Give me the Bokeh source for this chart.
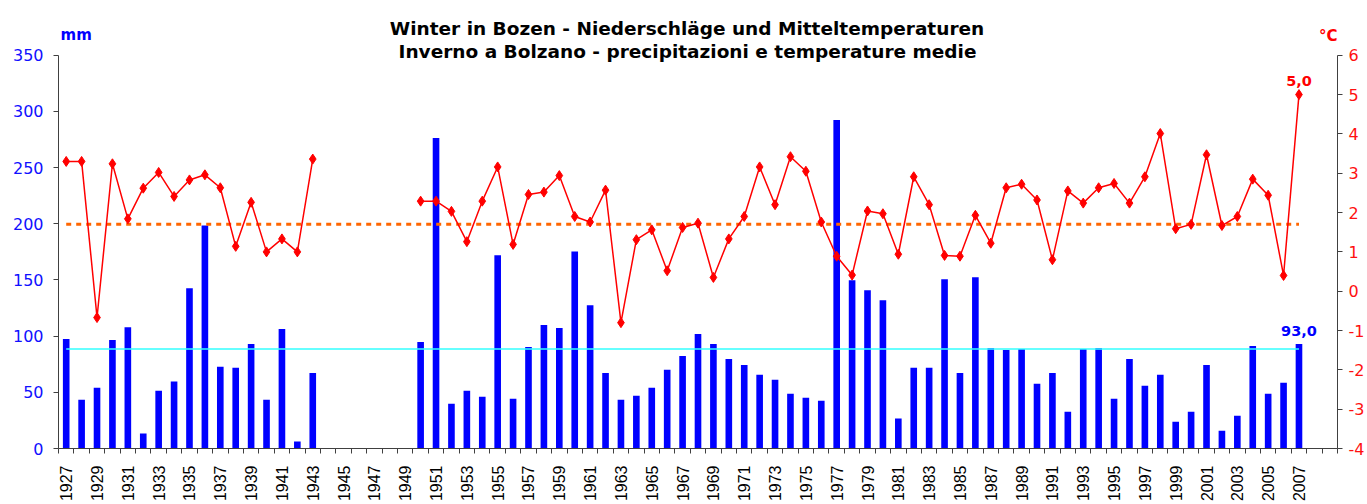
import math
from bokeh.plotting import figure
from bokeh.models import Range1d, LinearAxis, FixedTicker, Label
from bokeh.core.properties import value
from bokeh.embed import file_html
from bokeh.resources import INLINE

# ---------------- data ----------------
years = list(range(1927, 2008))

precip_years = [1927, 1928, 1929, 1930, 1931, 1932, 1933, 1934, 1935, 1936, 1937, 1938,
                1939, 1940, 1941, 1942, 1943,
                1950, 1951, 1952, 1953, 1954, 1955, 1956, 1957, 1958, 1959, 1960, 1961,
                1962, 1963, 1964, 1965, 1966, 1967, 1968, 1969, 1970, 1971, 1972, 1973,
                1974, 1975, 1976, 1977, 1978, 1979, 1980, 1981, 1982, 1983, 1984, 1985,
                1986, 1987, 1988, 1989, 1990, 1991, 1992, 1993, 1994, 1995, 1996, 1997,
                1998, 1999, 2000, 2001, 2002, 2003, 2004, 2005, 2006, 2007]
precip_mm = [97.5, 43.4, 54.0, 96.6, 108.0, 13.3, 51.4, 59.7, 142.6, 198.5, 72.7, 71.8,
             93.0, 43.4, 106.3, 6.2, 67.3,
             94.8, 276.4, 39.9, 51.4, 46.1, 171.9, 44.3, 90.4, 109.9, 107.2, 175.4, 127.6,
             67.3, 43.4, 47.0, 54.0, 70.0, 82.4, 101.9, 93.0, 79.7, 74.4, 65.6, 61.1,
             48.7, 45.2, 42.5, 292.4, 149.7, 140.9, 132.0, 26.6, 71.8, 71.8, 150.6, 67.3,
             152.4, 89.5, 87.7, 88.6, 57.6, 67.3, 32.8, 88.6, 89.5, 44.3, 79.7, 55.8,
             65.6, 23.9, 32.8, 74.4, 15.9, 29.2, 91.3, 48.7, 58.5, 93.0]

nan = float("nan")
temp_years = years
temp_c = [3.30, 3.30, -0.67, 3.24, 1.84, 2.62, 3.02, 2.41, 2.83, 2.96, 2.63, 1.14,
          2.26, 1.00, 1.33, 1.00, 3.36,
          nan, nan, nan, nan, nan, nan,
          2.29, 2.29, 2.03, 1.26, 2.29, 3.16, 1.19, 2.46, 2.52, 2.94, 1.90, 1.76,
          2.57, -0.80, 1.31, 1.56, 0.52, 1.62, 1.73, 0.35, 1.33, 1.90, 3.16, 2.20,
          3.42, 3.05, 1.76, 0.89, 0.41, 2.04, 1.97, 0.94, 2.91, 2.20, 0.91, 0.89,
          1.93, 1.22, 2.63, 2.72, 2.32, 0.80, 2.55, 2.24, 2.63, 2.74, 2.24, 2.91,
          4.01, 1.59, 1.70, 3.47, 1.67, 1.90, 2.85, 2.44, 0.40, 5.00]

precip_mean = 88.5
temp_mean = 1.7
mean_span = [1927, 2007]

tick_label_years = list(range(1927, 2008, 2))
left_ticks = [0, 50, 100, 150, 200, 250, 300, 350]
right_ticks = [-4, -3, -2, -1, 0, 1, 2, 3, 4, 5, 6]
right_tick_labels = ["-4", "-3", "-2", "-1", "0", "1", "2", "3", "4", "5", "6"]

title1 = "Winter in Bozen - Niederschläge und Mitteltemperaturen"
title2 = "Inverno a Bolzano - precipitazioni e temperature medie"
unit_left = "mm"
unit_right = "°C"

FONT = "DejaVu Sans"
XFONT = "Liberation Sans"
AXC = "#404040"
W, H = 1367, 504
LB, RB, BB = 58, 29, 54          # frame: x 58..1338, y 0..450 (page)
FRAME_H = H - BB
AX_H = 395                       # axes drawn from page y=55 to 450
mm_top = 350 * FRAME_H / AX_H
t_top = -4 + 10 * FRAME_H / AX_H

p = figure(width=W, height=H, output_backend="svg", toolbar_location=None,
           x_range=Range1d(1926.5, 2009.5), y_range=Range1d(0, mm_top),
           min_border_left=LB, min_border_right=RB, min_border_top=0,
           min_border_bottom=BB)
p.extra_y_ranges = {"t": Range1d(-4, t_top)}
p.outline_line_color = None
p.xgrid.visible = False
p.ygrid.visible = False

# x axis: labels at odd years, tick marks between categories
xa = p.xaxis[0]
xa.ticker = FixedTicker(ticks=tick_label_years,
                        minor_ticks=[y - 0.5 for y in range(1927, 2011)])
xa.major_label_orientation = math.pi / 2
xa.major_tick_out = 0
xa.major_tick_in = 0
xa.minor_tick_out = 5
xa.minor_tick_in = 0
xa.minor_tick_line_color = AXC
xa.axis_line_color = AXC
xa.major_label_text_font = XFONT
xa.major_label_text_font_size = "16px"
xa.major_label_text_color = "black"
xa.major_label_standoff = 12

# left axis (mm)
ya = p.yaxis[0]
ya.ticker = FixedTicker(ticks=left_ticks)
ya.bounds = (0, 350)
ya.major_tick_out = 5
ya.major_tick_in = 0
ya.minor_tick_out = 0
ya.minor_tick_in = 0
ya.axis_line_color = AXC
ya.major_tick_line_color = AXC
ya.major_label_text_font = FONT
ya.major_label_text_font_size = "16px"
ya.major_label_text_color = "#1010ff"
ya.major_label_standoff = 10

# right axis (°C), hyphen-minus labels as in the original
ra = LinearAxis(y_range_name="t", ticker=FixedTicker(ticks=right_ticks), bounds=(-4, 6),
                major_label_overrides=dict(zip(right_ticks, right_tick_labels)))
ra.major_tick_out = 5
ra.major_tick_in = 0
ra.minor_tick_out = 0
ra.minor_tick_in = 0
ra.axis_line_color = AXC
ra.major_tick_line_color = AXC
ra.major_label_text_font = FONT
ra.major_label_text_font_size = "16px"
ra.major_label_text_color = "#ff1010"
ra.major_label_standoff = 6
p.add_layout(ra, "right")

# bars
p.vbar(x=precip_years, top=precip_mm, bottom=0, width=0.43,
       fill_color="#0000ff", line_color=None)

# mean lines
p.line(x=mean_span, y=[precip_mean, precip_mean], line_color="#33ffff", line_width=1.5)
p.line(x=mean_span, y=[temp_mean, temp_mean], y_range_name="t",
       line_color="#ff6600", line_width=3, line_dash="5 5")

# temperature
p.line(x=temp_years, y=temp_c, y_range_name="t", line_color="#ff0000", line_width=1.5)
p.scatter(x=temp_years, y=temp_c, y_range_name="t", marker="diamond", size=10,
          fill_color="#ff0000", line_color="#ff0000")

# value labels
p.text(x=[years[-1]], y=[temp_c[-1]], text=["5,0"], y_range_name="t",
       text_align="center", text_baseline="alphabetic", y_offset=-14,
       text_font=value(FONT), text_font_size="14.5px", text_font_style="bold",
       text_color="#ff0000")
p.text(x=[precip_years[-1]], y=[precip_mm[-1]], text=["93,0"],
       text_align="center", text_baseline="alphabetic", y_offset=-13,
       text_font=value(FONT), text_font_size="14.5px", text_font_style="bold",
       text_color="#0000ff")

# titles and unit labels: screen units from the frame's bottom-left corner
def frame_label(txt, px, baseline_py, align, size, color):
    p.add_layout(Label(x=px - LB, y=FRAME_H - baseline_py, x_units="screen",
                       y_units="screen", text=txt, text_align=align,
                       text_baseline="alphabetic", text_font=FONT,
                       text_font_size=size, text_font_style="bold", text_color=color))

frame_label(title1, 686.5, 30, "center", "18.5px", "black")
frame_label(title2, 687, 52.5, "center", "18.5px", "black")
frame_label(unit_left, 60, 36.5, "left", "15px", "#0000ff")
frame_label(unit_right, 1337, 37.5, "right", "15px", "#ff0000")

open("out.html", "w").write(file_html(p, INLINE))
